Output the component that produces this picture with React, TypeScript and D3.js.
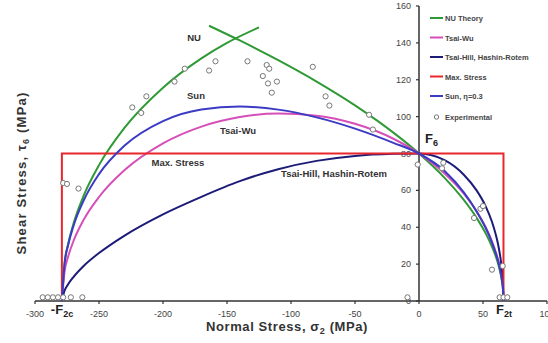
import React from 'react';
import * as d3 from 'd3';

// failure envelopes (normal stress sigma2 vs shear tau6, MPa)
const sigmaGrid = [-279, -277, -274, -270, -262, -250, -230, -200, -170, -140, -110, -80, -50, -20, 0, 20, 35, 45, 52, 57, 60, 62, 64, 65, 65.6, 66];
const tsaiWuTau = [0, 15.4, 24.3, 32.4, 44.0, 56.4, 71.0, 85.5, 94.6, 99.8, 101.7, 100.5, 96.1, 88.0, 80, 69.1, 58.2, 48.6, 40.1, 32.4, 26.6, 21.8, 15.4, 10.9, 6.9, 0];
const tsaiHillTau = [0, 5.4, 9.2, 13, 19, 26, 35.5, 47, 56.5, 65, 71.5, 76, 78.7, 79.8, 80, 76.4, 68.5, 60, 51.5, 43, 36, 30, 21.5, 15, 9.5, 0];
const sunTau = [0, 19.5, 30.6, 40.6, 54.5, 68.8, 84.3, 97.6, 103.9, 105.5, 103.8, 99.6, 93.5, 85.8, 80, 70.5, 58.9, 48.6, 39.7, 31.7, 25.8, 21.1, 14.9, 10.5, 6.6, 0];

const nuLeftSigma = [-279, -277, -274, -270, -262, -250, -230, -200, -170, -150, -125];
const nuLeftTau = [0, 19.8, 31.3, 41.8, 57.1, 73.7, 94.0, 115.7, 131.6, 140.0, 148.4];
const nuRightSigma = [-164, -140, -110, -80, -50, -20, 0, 20, 35, 45, 52, 57, 60, 62, 64, 65, 65.6, 66];
const nuRightTau = [149.3, 141.3, 130.6, 119.0, 106.1, 91.3, 80, 66.8, 54.8, 45.1, 36.8, 29.5, 24.1, 19.7, 13.9, 9.8, 6.2, 0];

const maxStressSigma = [-279, -279, 66, 66];
const maxStressTau = [0, 80, 80, 0];

const expSigma = [-224, -217, -213, -191, -183, -164, -159, -134, -119, -117, -122, -118, -111, -115, -83, -73, -70, -39, -36,
  -278, -275, -266, -1, 19, 18, 43, 48, 50, 57, 65.4, 63, 66, 69, -9, -294, -290, -286, -282, -278, -272, -263];
const expTau = [105, 102, 111, 119, 126, 125, 130, 130, 128, 126, 122, 118, 119, 113, 127, 111, 106, 101, 93,
  64, 63.5, 61, 74, 75, 72, 45, 50, 51.5, 17, 19, 2, 2, 2, 2, 2, 2, 2, 2, 2, 2, 2];

const xTicks = [-300, -250, -200, -150, -100, -50, 0, 50, 100];
const yTicks = [0, 20, 40, 60, 80, 100, 120, 140, 160];

const legendNames = ['NU Theory', 'Tsai-Wu', 'Tsai-Hill, Hashin-Rotem', 'Max. Stress', 'Sun, \u03b7=0.3'];
const legendColors = ['#2f9a35', '#d64fb8', '#1c1c78', '#e8262b', '#3b3bc4'];

const W = 548, H = 343;

export default function App() {
  const x = d3.scaleLinear().domain([-300, 100]).range([35, 547]);
  const y = d3.scaleLinear().domain([0, 160]).range([301, 6]);

  const line = d3.line<[number, number]>()
    .x(d => x(d[0])).y(d => y(d[1]))
    .curve(d3.curveMonotoneX);
  const straight = d3.line<[number, number]>().x(d => x(d[0])).y(d => y(d[1]));

  const zip = (a: number[], b: number[]) => a.map((v, i) => [v, b[i]] as [number, number]);

  const font = 'Liberation Sans, Arial, sans-serif';
  const x0 = x(0);

  return (
    <svg width={W} height={H} style={{ position: 'absolute', left: 0, top: 0, background: '#fff' }} fontFamily={font}>
      {/* axes */}
      <line x1={x(-300)} x2={x(100)} y1={y(0)} y2={y(0)} stroke="#333" strokeWidth={1.5} />
      <line x1={x0} x2={x0} y1={y(0)} y2={y(160)} stroke="#333" strokeWidth={1.5} />
      {xTicks.map(t => (
        <g key={'x' + t}>
          <line x1={x(t)} x2={x(t)} y1={y(0)} y2={y(0) + 3} stroke="#333" strokeWidth={1.2} />
          <text x={x(t)} y={317} fontSize={9} fill="#444" textAnchor="middle">{t}</text>
        </g>
      ))}
      {yTicks.map(t => (
        <g key={'y' + t}>
          <line x1={x0 - 3} x2={x0} y1={y(t)} y2={y(t)} stroke="#333" strokeWidth={1.2} />
          <text x={x0 - 8} y={y(t) + 3} fontSize={9} fill="#444" textAnchor="end">{t}</text>
        </g>
      ))}

      {/* series */}
      <path d={line(zip(nuLeftSigma, nuLeftTau)) || ''} fill="none" stroke={legendColors[0]} strokeWidth={2} />
      <path d={line(zip(nuRightSigma, nuRightTau)) || ''} fill="none" stroke={legendColors[0]} strokeWidth={2} />
      <path d={line(zip(sigmaGrid, tsaiWuTau)) || ''} fill="none" stroke={legendColors[1]} strokeWidth={2} />
      <path d={line(zip(sigmaGrid, tsaiHillTau)) || ''} fill="none" stroke={legendColors[2]} strokeWidth={2} />
      <path d={straight(zip(maxStressSigma, maxStressTau)) || ''} fill="none" stroke={legendColors[3]} strokeWidth={2} />
      <path d={line(zip(sigmaGrid, sunTau)) || ''} fill="none" stroke={legendColors[4]} strokeWidth={2} />

      {expSigma.map((s, i) => (
        <circle key={'e' + i} cx={x(s)} cy={y(expTau[i])} r={2.6} fill="#fff" stroke="#777" strokeWidth={1} />
      ))}

      {/* curve labels */}
      <g fontSize={9.5} fontWeight="bold" fill="#333">
        <text x={194} y={41} textAnchor="middle">NU</text>
        <text x={196} y={99} textAnchor="middle">Sun</text>
        <text x={238} y={134} textAnchor="middle">Tsai-Wu</text>
        <text x={178} y={166} textAnchor="middle">Max. Stress</text>
        <text x={334} y={177} textAnchor="middle">Tsai-Hill, Hashin-Rotem</text>
      </g>
      <g fontWeight="bold" fill="#222">
        <text x={425} y={143} fontSize={13}>F<tspan dy={3} fontSize={9}>6</tspan></text>
        <text x={62} y={314} fontSize={13} textAnchor="middle">-F<tspan dy={3} fontSize={9}>2c</tspan></text>
        <text x={504} y={314} fontSize={13} textAnchor="middle">F<tspan dy={3} fontSize={9}>2t</tspan></text>
      </g>

      {/* legend */}
      <g fontSize={7.5} fontWeight="bold" fill="#444">
        {legendNames.map((n, i) => (
          <g key={n} transform={`translate(430, ${18 + i * 19.5})`}>
            <line x1={0} x2={13} y1={0} y2={0} stroke={legendColors[i]} strokeWidth={2} />
            <text x={15} y={3}>{n}</text>
          </g>
        ))}
        <g transform="translate(430, 117)">
          <circle cx={6.5} cy={0} r={2.2} fill="#fff" stroke="#777" strokeWidth={1} />
          <text x={15} y={3}>Experimental</text>
        </g>
      </g>

      {/* axis titles */}
      <text x={287} y={331} fontSize={13} letterSpacing={0.6} fontWeight="bold" fill="#333" textAnchor="middle">
        Normal Stress, {'\u03c3'}<tspan dy={3} fontSize={9}>2</tspan><tspan dy={-3}> (MPa)</tspan>
      </text>
      <text transform={`translate(26, 173) rotate(-90)`} fontSize={13} letterSpacing={1.2} fontWeight="bold" fill="#333" textAnchor="middle">
        Shear Stress, {'\u03c4'}<tspan dy={3} fontSize={9}>6</tspan><tspan dy={-3}> (MPa)</tspan>
      </text>
    </svg>
  );
}
